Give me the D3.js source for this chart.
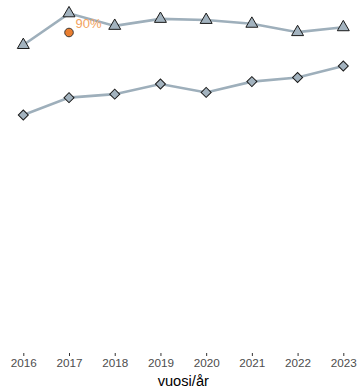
<!DOCTYPE html>
<html>
<head>
<meta charset="utf-8">
<script src="https://cdn.jsdelivr.net/npm/d3@7"></script>
<style>
  html, body { margin: 0; padding: 0; background: #ffffff; }
  svg { display: block; font-family: "Liberation Sans", Arial, Helvetica, sans-serif; }
</style>
</head>
<body>
<svg id="chart" width="359" height="392"></svg>
<script>
// Years on the horizontal axis
const years = [2016, 2017, 2018, 2019, 2020, 2021, 2022, 2023];
// Upper series (triangles), percent
const upperValues = [86.4, 95.5, 91.9, 93.9, 93.6, 92.5, 90.1, 91.5];
// Lower series (diamonds), percent
const lowerValues = [66.3, 71.3, 72.3, 75.2, 72.8, 75.9, 77.1, 80.4];
// Highlighted single observation
const highlightYear = [2017];
const highlightValue = [90];
const highlightLabel = ["90%"];
const xTitle = "vuosi/år";

const svg = d3.select("#chart");

const x = d3.scaleLinear().domain([2016, 2023]).range([23.3, 343.3]);
const y = d3.scaleLinear().domain([0, 100]).range([346, -2.33]);

const lineColor = "#9eafbb";
const markFill = "#a3b3bf";
const markStroke = "#1a1a1a";

const line = d3.line().x((d, i) => x(years[i])).y(d => y(d));

// connecting lines
svg.append("path").datum(upperValues)
  .attr("d", line).attr("fill", "none")
  .attr("stroke", lineColor).attr("stroke-width", 2.6);
svg.append("path").datum(lowerValues)
  .attr("d", line).attr("fill", "none")
  .attr("stroke", lineColor).attr("stroke-width", 2.6);

// diamonds for the lower series
svg.append("g").selectAll("path").data(lowerValues).join("path")
  .attr("d", d3.symbol(d3.symbolSquare, 50)())
  .attr("transform", (d, i) => `translate(${x(years[i])},${y(d)}) rotate(45)`)
  .attr("fill", markFill).attr("stroke", markStroke).attr("stroke-width", 1);

// triangles for the upper series
svg.append("g").selectAll("path").data(upperValues).join("path")
  .attr("d", d3.symbol(d3.symbolTriangle, 62)())
  .attr("transform", (d, i) => `translate(${x(years[i])},${y(d)})`)
  .attr("fill", markFill).attr("stroke", markStroke).attr("stroke-width", 1);

// highlighted point and its label
svg.append("g").selectAll("circle").data(highlightValue).join("circle")
  .attr("cx", (d, i) => x(highlightYear[i]))
  .attr("cy", d => y(d))
  .attr("r", 4.3)
  .attr("fill", "#e97e30").attr("stroke", "#2a2a2a").attr("stroke-width", 0.9);
svg.append("g").selectAll("text").data(highlightValue).join("text")
  .attr("x", (d, i) => x(highlightYear[i]) + 6.5)
  .attr("y", d => y(d) - 5)
  .attr("font-size", 13)
  .attr("fill", "#f2a25e")
  .text((d, i) => highlightLabel[i]);

// x axis: short ticks and year labels, no domain line
const axis = d3.axisBottom(x).tickValues(years).tickFormat(d3.format("d"))
  .tickSize(3).tickPadding(2.5);
const gx = svg.append("g").attr("transform", "translate(0,353)").call(axis);
gx.select(".domain").remove();
gx.selectAll(".tick line").attr("stroke", "#333333").attr("stroke-width", 1);
gx.selectAll(".tick text").attr("fill", "#4d4d4d")
  .attr("font-size", 11.7)
  .attr("font-family", "Liberation Sans, Arial, sans-serif");

svg.append("text")
  .attr("x", (x.range()[0] + x.range()[1]) / 2)
  .attr("y", 386)
  .attr("text-anchor", "middle")
  .attr("font-size", 14.67)
  .attr("fill", "#000000")
  .text(xTitle);
</script>
</body>
</html>
